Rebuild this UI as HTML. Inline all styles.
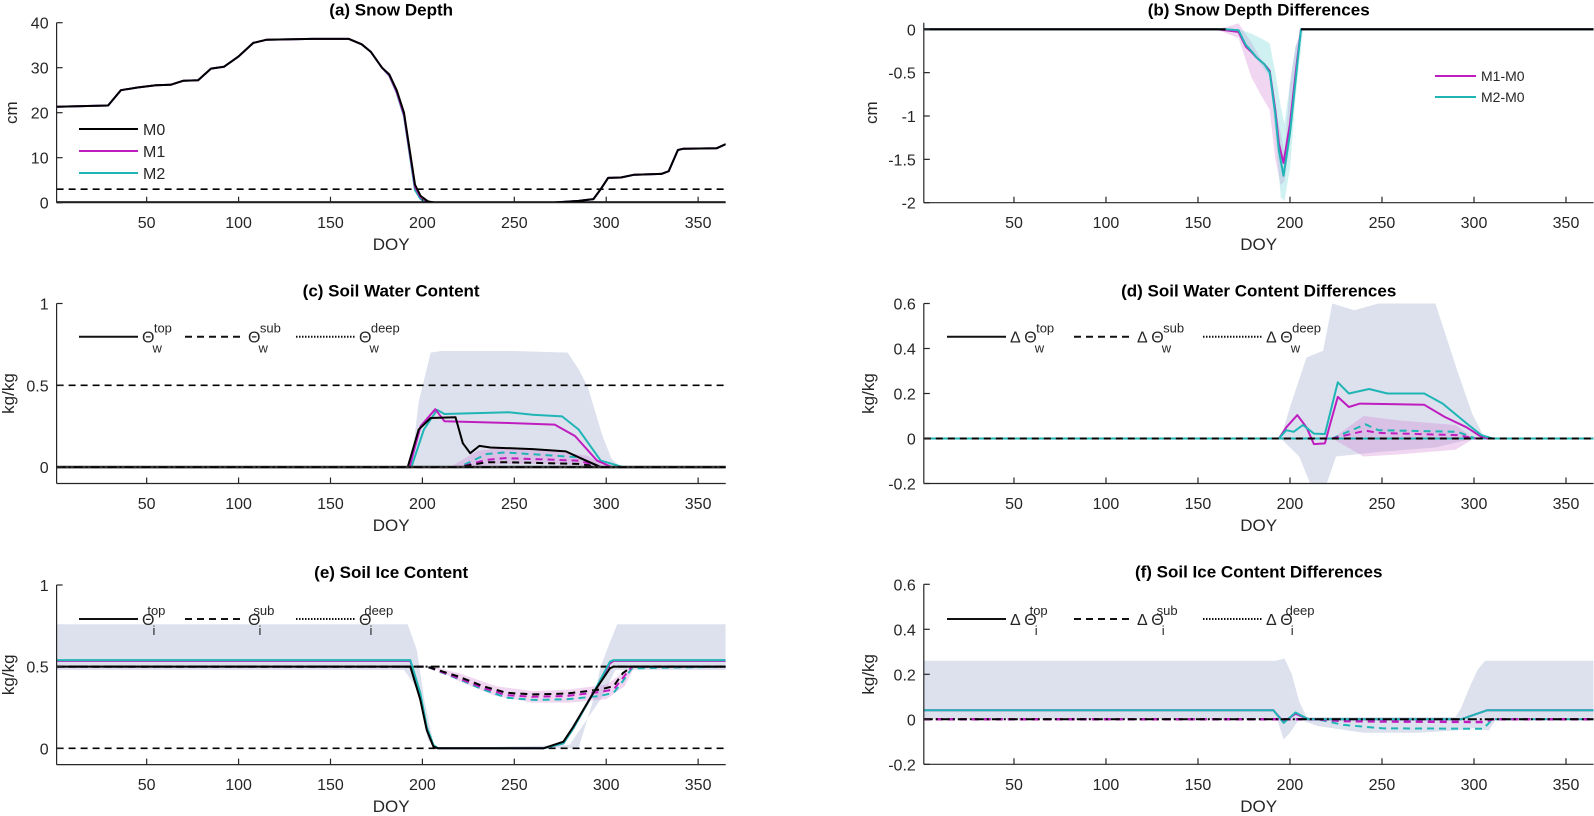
<!DOCTYPE html>
<html><head><meta charset="utf-8"><style>
html,body{margin:0;padding:0;background:#fff;}
svg{display:block;font-family:"Liberation Sans",Arial,sans-serif;}
</style></head><body>
<svg id="fig" width="1594" height="816" viewBox="0 0 1594 816" xmlns="http://www.w3.org/2000/svg"></svg>
<script>
// ---------- data ----------
const xTicks=[50,100,150,200,250,300,350];
// (a) snow depth
const aDoy=[1,29,36,45,55,63,70,78,85,92,100,108,115,140,160,167,172,178,182,186,190,193,196,199,203,207,270,285,293,297,301,308,315,330,334,339,342,360,365];
const aM0=[21.3,21.6,25,25.6,26.1,26.2,27.1,27.2,29.8,30.2,32.5,35.5,36.2,36.4,36.4,35.2,33.5,30,28.5,25,20,12,4,1.5,0.3,0,0,0.4,0.8,3,5.5,5.6,6.2,6.4,7,11.7,12,12.1,13];
const aM1=[21.3,21.6,25,25.6,26.1,26.2,27.1,27.2,29.8,30.2,32.5,35.5,36.2,36.4,36.4,35.2,33.5,30,28.3,24.6,19.5,11.5,3.5,1.2,0.2,0,0,0.4,0.8,3,5.5,5.6,6.2,6.4,7,11.7,12,12.1,13];
const aM2=[21.3,21.6,25,25.6,26.1,26.2,27.1,27.2,29.8,30.2,32.5,35.5,36.2,36.4,36.4,35.2,33.5,30,28.2,24.4,19.2,11,2.8,0.8,0.1,0,0,0.4,0.8,3,5.5,5.6,6.2,6.4,7,11.7,12,12.1,13];
const aThresh=3;
const aYTicks=[0,10,20,30,40];
// (b) snow depth differences
const bDoy=[1,160,165,172,176,179,182,186,189,192,194,196.5,200,203.5,206,365];
const bM1=[0,0,-0.01,-0.03,-0.2,-0.26,-0.33,-0.4,-0.48,-0.93,-1.32,-1.54,-1.09,-0.43,0,0];
const bM2=[0,0,0,-0.01,-0.18,-0.25,-0.33,-0.4,-0.5,-0.98,-1.4,-1.69,-1.2,-0.5,0,0];
const bPinkDoy=[160,166,172,179,184,189,192,195,197,200,203,206];
const bPinkUp=[0,0.03,0.07,-0.15,-0.33,-0.5,-0.9,-1.2,-1.43,-0.62,-0.2,0];
const bPinkLow=[0,-0.05,-0.1,-0.55,-0.75,-0.93,-1.5,-1.8,-1.75,-1.3,-0.5,0];
const bCyanDoy=[165,172,179,184,189,192,195,197,200,203,207];
const bCyanUp=[0,0,-0.05,-0.1,-0.16,-0.5,-0.9,-1.09,-0.62,-0.2,0];
const bCyanLow=[0,-0.05,-0.25,-0.4,-0.55,-1.2,-1.94,-1.98,-1.6,-0.8,0];
const bYTicks=[0,-0.5,-1,-1.5,-2];
// (c) soil water content
const cBandDoy=[192,194,198,204.5,210,250,279,285,290,298,303,308];
const cBandUp=[0,0.02,0.4,0.7,0.71,0.71,0.7,0.6,0.49,0.19,0.05,0];
const cTopDoy=[1,192,198,204.5,218,222,226,231,237,260,278,288,297,365];
const cTopM0=[0,0,0.23,0.3,0.305,0.146,0.085,0.13,0.12,0.11,0.096,0.045,0,0];
const cTopM1Doy=[1,193,199,207,212,247,272,283,295,303,365];
const cTopM1=[0,0,0.25,0.354,0.28,0.27,0.26,0.19,0.04,0,0];
const cTopM2Doy=[1,194,200.8,208,212,247,260,276,285,297,309,365];
const cTopM2=[0,0,0.23,0.35,0.325,0.335,0.32,0.31,0.23,0.04,0,0];
const cSubDoy=[1,220,235,245,285,297,365];
const cSubM0=[0,0,0.03,0.03,0.02,0,0];
const cSubM1=[0,0,0.045,0.055,0.04,0,0];
const cSubM2=[0,0,0.08,0.09,0.06,0,0];
const cSubBandDoy=[215,230,245,270,290,300];
const cSubBandUp=[0,0.1,0.12,0.1,0.07,0];
const cSubBandLow=[0,0.01,0.02,0.02,0.01,0];
const cRef=[0.5];
const cYTicks=[0,0.5,1];
// (d) soil water content differences
const dBandUpDoy=[195,200,209,218,223,235,248,279,291,299,306];
const dBandUp=[0,0.14,0.36,0.39,0.6,0.57,0.6,0.6,0.3,0.11,0];
const dBandLowDoy=[195,205,211,220,225,248,279,299,306];
const dBandLow=[0,-0.08,-0.2,-0.2,-0.08,-0.06,-0.04,0,0];
const dTopM1Doy=[1,194,198,204,209,213,219,222,226,232,238,273,284,296,304,309,365];
const dTopM1=[0,0,0.05,0.104,0.05,-0.025,-0.022,0.07,0.185,0.14,0.155,0.15,0.096,0.05,0.007,0,0];
const dTopM2Doy=[1,194,198,202,207,213,219,226,232,243,253,273,283,296,304,310,365];
const dTopM2=[0,0,0.037,0.03,0.06,0.022,0.02,0.25,0.2,0.22,0.2,0.2,0.155,0.067,0.015,0,0];
const dSubDoy=[1,223,241,248,291,301,365];
const dSubM1=[0,0,0.035,0.025,0.015,0,0];
const dSubM2=[0,0,0.063,0.037,0.03,0,0];
const dSubBandDoy=[223,240,260,290,300];
const dSubBandUp=[0,0.1,0.08,0.06,0];
const dSubBandLow=[0,-0.08,-0.07,-0.05,0];
const dYTicks=[-0.2,0,0.2,0.4,0.6];
// (e) soil ice content
const eBandUpDoy=[1,192,197,201,206,209,285,293,297,301,306,365];
const eBandUp=[0.76,0.76,0.6,0.3,0.03,0,0,0.3,0.5,0.62,0.76,0.76];
const eBandLowDoy=[1,190,198,203,208,280,297,305,365];
const eBandLow=[0.48,0.48,0.35,0.05,0,0.02,0.3,0.48,0.48];
const eTopDoy=[1,193.4,198.8,202.4,206,208.5,265.8,276.7,282,293,302,304,365];
const eTopM0=[0.5,0.5,0.3,0.11,0.01,0,0,0.04,0.13,0.34,0.49,0.5,0.5];
const eTopM1=[0.535,0.535,0.33,0.12,0.015,0,0,0.03,0.12,0.34,0.52,0.535,0.535];
const eTopM2=[0.54,0.54,0.34,0.13,0.02,0,0,0.03,0.12,0.34,0.53,0.54,0.54];
const eSubDoy=[1,202.4,219.5,233,245.8,260.3,278.5,296.6,304,309,313.9,365];
const eSubM0=[0.5,0.5,0.44,0.38,0.34,0.33,0.335,0.36,0.38,0.46,0.5,0.5];
const eSubM1=[0.5,0.5,0.43,0.37,0.325,0.315,0.32,0.345,0.36,0.43,0.5,0.5];
const eSubM2=[0.5,0.5,0.425,0.36,0.31,0.296,0.3,0.32,0.34,0.41,0.49,0.5];
const eSubBandDoy=[205,220,240,260,280,300,310,315];
const eSubBandUp=[0.5,0.46,0.38,0.35,0.36,0.39,0.47,0.5];
const eSubBandLow=[0.5,0.41,0.32,0.28,0.28,0.3,0.38,0.49];
const eRef=[0,0.5];
const eYTicks=[0,0.5,1];
// (f) soil ice content differences
const fBandUpDoy=[1,192,197,201,205,209,290,293,298,302,306,365];
const fBandUp=[0.26,0.26,0.27,0.2,0.08,0.01,0.01,0.05,0.15,0.22,0.26,0.26];
const fBandLowDoy=[1,193,196.6,200,205,215,240,270,290,300,308,312,365];
const fBandLow=[0,0,-0.09,-0.06,0,-0.03,-0.06,-0.06,-0.05,-0.04,-0.05,0,0];
const fTopDoy=[1,191,196.6,203,210,293,307,365];
const fTopM1=[0.04,0.04,-0.012,0.025,0,0,0.04,0.04];
const fTopM2=[0.04,0.04,-0.016,0.03,0,0,0.04,0.04];
const fSubDoy=[1,215,229,250,305,310,365];
const fSubM1=[0,0,-0.008,-0.01,-0.012,0,0];
const fSubM2=[0,0,-0.025,-0.04,-0.042,0,0];
const fYTicks=[-0.2,0,0.2,0.4,0.6];

// ---------- drawing ----------
const NS='http://www.w3.org/2000/svg';
const svg=document.getElementById('fig');
const MAG='#bf1dbf', CYA='#1fb5b5', BLUE='#dde1ee', PINK='rgba(210,120,210,0.3)', CYB='rgba(120,215,215,0.35)';
const DASH='7,5', DASHDOT='9,3,2,3';
function mk(tag,attrs,parent){const e=document.createElementNS(NS,tag);for(const k in attrs)e.setAttribute(k,attrs[k]);(parent||svg).appendChild(e);return e;}
function makePanel(name,left,right,top,bottom,ymin,ymax){
  const g=mk('g',{});
  
  
  const sx=d=>left+(d-1)/(365-1)*(right-left);
  const sy=v=>bottom-(v-ymin)/(ymax-ymin)*(bottom-top);
  const cid=name+'-clip';
  const cp=mk('clipPath',{id:cid},g);mk('rect',{x:left,y:top-2,width:right-left,height:bottom-top+2},cp);
  const plot=mk('g',{'clip-path':'url(#'+cid+')'},g);
  return {g,plot,sx,sy,left,right,top,bottom};
}
function pts(P,doys,vals){return doys.map((d,i)=>P.sx(d).toFixed(1)+','+P.sy(vals[i]).toFixed(1));}
function line(P,doys,vals,color,w,dash,name){
  const el=mk('polyline',{points:pts(P,doys,vals).join(' '),fill:'none',stroke:color,'stroke-width':w,'stroke-linejoin':'round'},P.plot);
  if(dash)el.setAttribute('stroke-dasharray',dash);
  
  
}
function band(P,dUp,vUp,dLow,vLow,color,name){
  const a=pts(P,dUp,vUp), b=pts(P,dLow,vLow).reverse();
  const el=mk('polygon',{points:a.concat(b).join(' '),fill:color,stroke:'none'},P.plot);
  
  
}
function hline(P,v,color,w,dash,name){line(P,[1,365],[v,v],color,w,dash,name);}
function axes(P,yTicks,ylabel,ylabX,title,tickBase,doyBase){
  const ax=mk('g',{stroke:'#262626','stroke-width':1.2,fill:'none'},P.g);
  
  
  mk('line',{x1:P.left,y1:P.top,x2:P.left,y2:P.bottom},ax);
  mk('line',{x1:P.left,y1:P.bottom,x2:P.right,y2:P.bottom},ax);
  xTicks.forEach(t=>{const x=P.sx(t);mk('line',{x1:x,y1:P.bottom,x2:x,y2:P.bottom-6},ax);
    const tx=mk('text',{x:x,y:tickBase,'text-anchor':'middle','font-size':16,fill:'#262626'},P.g);tx.textContent=t;
    });
  yTicks.forEach(t=>{const y=P.sy(t);mk('line',{x1:P.left,y1:y,x2:P.left+6,y2:y},ax);
    const tx=mk('text',{x:P.left-8,y:y+6,'text-anchor':'end','font-size':16,fill:'#262626'},P.g);tx.textContent=t;
    });
  const yl=mk('text',{x:ylabX,y:(P.top+P.bottom)/2,'text-anchor':'middle','font-size':17,fill:'#262626',transform:'rotate(-90 '+ylabX+' '+((P.top+P.bottom)/2)+')'},P.g);
  yl.textContent=ylabel;
  const xl=mk('text',{x:(P.left+P.right)/2,y:doyBase,'text-anchor':'middle','font-size':17,fill:'#262626'},P.g);
  xl.textContent='DOY';
  const tt=mk('text',{x:(P.left+P.right)/2,y:P.top-7,'text-anchor':'middle','font-size':17,'font-weight':'bold',fill:'#000'},P.g);
  tt.textContent=title;
}
function thetaLegend(P,x0,y,sub,delta){
  const g=mk('g',{},P.g);
  
  
  const items=[['top',''],['sub',DASH],['deep','1.5,1.5']];
  const step=delta?[0,127,256]:[0,106,217];
  items.forEach((it,i)=>{
    const lx=x0+step[i];
    const l=mk('line',{x1:lx,y1:y,x2:lx+59,y2:y,stroke:'#111','stroke-width':2},g);
    if(it[1])l.setAttribute('stroke-dasharray',it[1]);
    const t=mk('text',{x:lx+63,y:y+6,'font-size':16,fill:'#262626'},g);
    
    
    const a=mk('tspan',{},t);a.textContent=(delta?'Δ Θ':'Θ');
    const s=mk('tspan',{dy:10,'font-size':13,dx:-2},t);s.textContent=sub;
    const p=mk('tspan',{dy:-20,'font-size':13,dx:-8},t);p.textContent=it[0];
  });
}
const L=[56.6,725.7], R=[923.8,1593.6];

// Panel a
let P=makePanel('panel-a-snow-depth',L[0],L[1],22.7,202.7,0,40);
hline(P,aThresh,'#000',1.6,DASH,'threshold-line');
line(P,aDoy,aM2,CYA,2,'','series-m2');
line(P,aDoy,aM1,MAG,2,'','series-m1');
line(P,aDoy,aM0,'#000',2,'','series-m0');
hline(P,0,'#000',3,'','zero-line');
axes(P,aYTicks,'cm',17,'(a) Snow Depth',228,250);
{const g=mk('g',{},P.g);
 [['M0','#000',129],['M1',MAG,151],['M2',CYA,173]].forEach(e=>{mk('line',{x1:79,y1:e[2],x2:138,y2:e[2],stroke:e[1],'stroke-width':2},g);
  const t=mk('text',{x:143,y:e[2]+6,'font-size':16,fill:'#262626'},g);t.textContent=e[0];
  });}

// Panel b
P=makePanel('panel-b-snow-depth-diff',R[0],R[1],22.7,202.7,-2,0.076);
band(P,bPinkDoy,bPinkUp,bPinkDoy,bPinkLow,PINK,'band-m1');
band(P,bCyanDoy,bCyanUp,bCyanDoy,bCyanLow,CYB,'band-m2');
line(P,bDoy,bM1,MAG,2,'','series-m1-m0');
line(P,bDoy,bM2,CYA,2,'','series-m2-m0');
line(P,[1,165],[0,0],'#000',2.2,'','zero-line');
line(P,[206,365],[0,0],'#000',2.2,'','zero-line-right');
axes(P,bYTicks,'cm',877,'(b) Snow Depth Differences',228,250);
{const g=mk('g',{},P.g);
 [['M1-M0',MAG,76],['M2-M0',CYA,97]].forEach(e=>{mk('line',{x1:1435,y1:e[2],x2:1476,y2:e[2],stroke:e[1],'stroke-width':2},g);
  const t=mk('text',{x:1481,y:e[2]+5,'font-size':14,fill:'#262626'},g);t.textContent=e[0];
  });}

// Panel c
P=makePanel('panel-c-soil-water',L[0],L[1],303.5,483.5,-0.1,1);
band(P,cBandDoy,cBandUp,[192,308],[0,0],BLUE,'band-top');
band(P,cSubBandDoy,cSubBandUp,cSubBandDoy,cSubBandLow,PINK,'band-sub');
hline(P,cRef[0],'#000',1.6,DASH,'reference-line');
line(P,cSubDoy,cSubM2,CYA,2,DASH,'series-sub-m2');
line(P,cSubDoy,cSubM1,MAG,2,DASH,'series-sub-m1');
line(P,cSubDoy,cSubM0,'#000',2,DASH,'series-sub-m0');
line(P,cTopM2Doy,cTopM2,CYA,2,'','series-top-m2');
line(P,cTopM1Doy,cTopM1,MAG,2,'','series-top-m1');
line(P,cTopDoy,cTopM0,'#000',2,'','series-top-m0');
hline(P,0,'#333',2.6,'','zero-line');
hline(P,0,'#000',1.5,DASHDOT,'series-deep');
axes(P,cYTicks,'kg/kg',14,'(c) Soil Water Content',509,531);
thetaLegend(P,79,336.7,'w',false);

// Panel d
P=makePanel('panel-d-soil-water-diff',R[0],R[1],303.5,483.5,-0.2,0.6);
band(P,dBandUpDoy,dBandUp,dBandLowDoy,dBandLow,BLUE,'band-top');
band(P,dSubBandDoy,dSubBandUp,dSubBandDoy,dSubBandLow,PINK,'band-sub');
hline(P,0,CYA,2,'','series-deep');
line(P,dSubDoy,dSubM2,CYA,2,DASH,'series-sub-m2');
line(P,dSubDoy,dSubM1,MAG,2,DASH,'series-sub-m1');
line(P,dTopM1Doy,dTopM1,MAG,2,'','series-top-m1');
line(P,dTopM2Doy,dTopM2,CYA,2,'','series-top-m2');
hline(P,0,'#000',2,DASH,'zero-line');
axes(P,dYTicks,'kg/kg',874,'(d) Soil Water Content Differences',509,531);
thetaLegend(P,947,336.7,'w',true);

// Panel e
P=makePanel('panel-e-soil-ice',L[0],L[1],585,764.6,-0.1,1);
band(P,eBandUpDoy,eBandUp,eBandLowDoy,eBandLow,BLUE,'band-top');
band(P,eSubBandDoy,eSubBandUp,eSubBandDoy,eSubBandLow,PINK,'band-sub');
hline(P,eRef[0],'#000',1.6,DASH,'reference-line-0');
hline(P,eRef[1],'#000',2,DASHDOT,'series-deep');
line(P,eSubDoy,eSubM2,CYA,2,DASH,'series-sub-m2');
line(P,eSubDoy,eSubM1,MAG,2,DASH,'series-sub-m1');
line(P,eSubDoy,eSubM0,'#000',2,DASH,'series-sub-m0');
line(P,eTopDoy,eTopM1,MAG,2,'','series-top-m1');
line(P,eTopDoy,eTopM2,CYA,2,'','series-top-m2');
line(P,eTopDoy,eTopM0,'#000',2,'','series-top-m0');
axes(P,eYTicks,'kg/kg',14,'(e) Soil Ice Content',790,812);
thetaLegend(P,79,619,'i',false);

// Panel f
P=makePanel('panel-f-soil-ice-diff',R[0],R[1],584.3,764.3,-0.2,0.6);
band(P,fBandUpDoy,fBandUp,fBandLowDoy,fBandLow,BLUE,'band-top');
line(P,fSubDoy,fSubM2,CYA,2,DASH,'series-sub-m2');
line(P,fSubDoy,fSubM1,MAG,2.5,DASH,'series-sub-m1');
line(P,fTopDoy,fTopM1,MAG,2,'','series-top-m1');
line(P,fTopDoy,fTopM2,CYA,2,'','series-top-m2');
hline(P,0,'#000',2,DASHDOT,'zero-line');
axes(P,fYTicks,'kg/kg',874,'(f) Soil Ice Content Differences',790,812);
thetaLegend(P,947,619,'i',true);
</script>
</body></html>
